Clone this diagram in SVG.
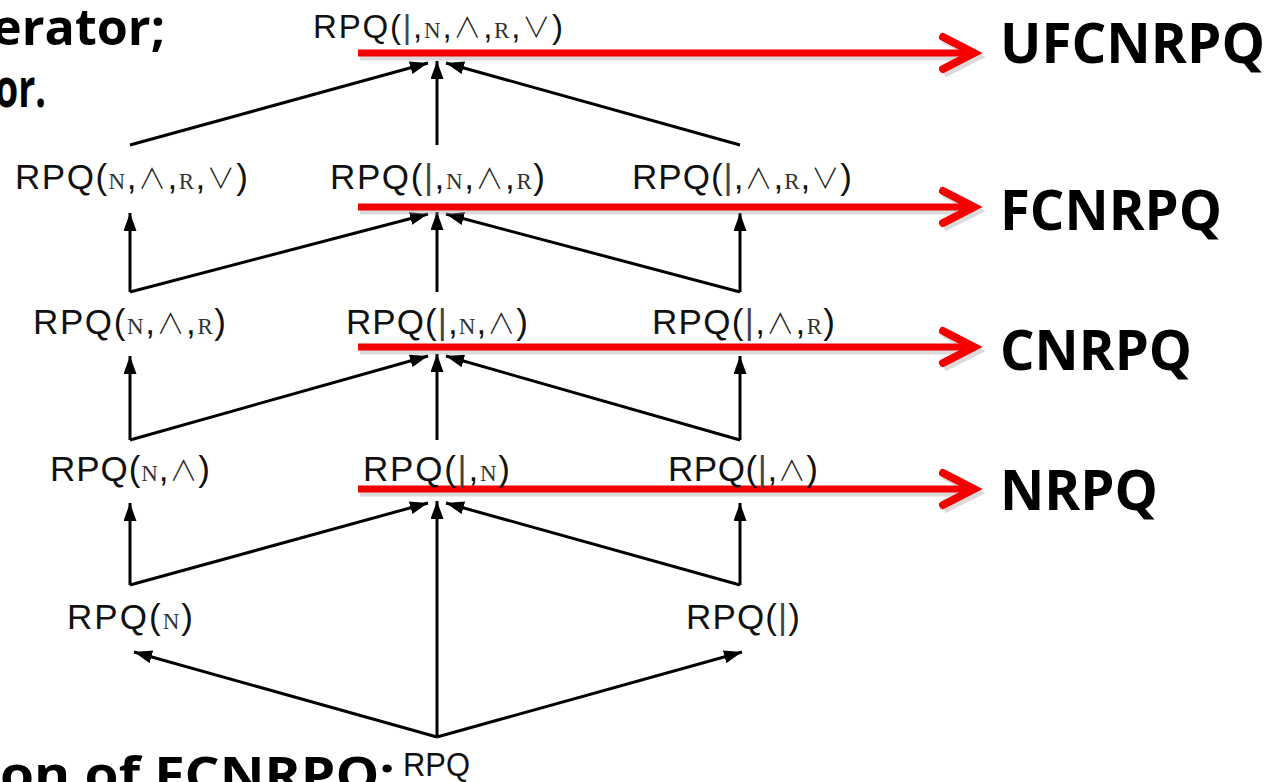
<svg xmlns="http://www.w3.org/2000/svg" width="1281" height="782" viewBox="0 0 1281 782">
<style>
.bg{fill:#fff}
.title{font-family:"Open Sans","Noto Sans",sans-serif;font-weight:700;fill:#000}
.lvl{font-family:"Open Sans","Noto Sans",sans-serif;font-weight:700;font-size:56px;fill:#000}
.lab{font-family:"Liberation Sans","DejaVu Sans",sans-serif;font-size:35px;fill:#111}
.lab.sm{font-size:33px}
.sc{font-family:"Liberation Serif","DejaVu Serif",serif;font-size:23px;fill:#333}
.op{font-family:"Noto Sans CJK JP","Noto Sans CJK SC","DejaVu Sans",sans-serif;font-weight:300;font-size:28px;fill:#222}
.bar{font-family:"Liberation Sans",sans-serif;fill:#444}
.edge{stroke:#000;stroke-width:3;fill:none}
.red{stroke:#f40000;stroke-width:7;fill:none;stroke-linecap:butt}
.redhead{stroke:#f40000;stroke-width:8;fill:none;stroke-linecap:round;stroke-linejoin:miter}
.shadow{stroke:#999;stroke-width:7;fill:none;opacity:0.35}
</style>
<defs>
<marker id="ah" markerWidth="18" markerHeight="13" refX="18" refY="6.5" orient="auto" markerUnits="userSpaceOnUse">
<path d="M0,0 L18,6.5 L0,13 Z" fill="#000"/>
</marker>
</defs>
<rect class="bg" x="0" y="0" width="1281" height="782"/>

<g id="slide-text">
<text class="title" x="-8" y="45" font-size="50" textLength="173" lengthAdjust="spacingAndGlyphs">erator;</text>
<text class="title" x="-5" y="107" font-size="54" textLength="51" lengthAdjust="spacingAndGlyphs">or.</text>
<text class="title" x="0" y="792" font-size="48" textLength="395" lengthAdjust="spacingAndGlyphs">on of FCNRPQ:</text>
</g>

<g id="connectors">
<line class="edge" x1="130" y1="145" x2="428" y2="63" marker-end="url(#ah)"/>
<line class="edge" x1="437" y1="145" x2="437" y2="61" marker-end="url(#ah)"/>
<line class="edge" x1="740" y1="145" x2="446" y2="63" marker-end="url(#ah)"/>

<line class="edge" x1="130" y1="292" x2="130" y2="213" marker-end="url(#ah)"/>
<line class="edge" x1="130" y1="292" x2="428" y2="214" marker-end="url(#ah)"/>
<line class="edge" x1="437" y1="292" x2="437" y2="212" marker-end="url(#ah)"/>
<line class="edge" x1="740" y1="292" x2="446" y2="214" marker-end="url(#ah)"/>
<line class="edge" x1="740" y1="292" x2="740" y2="213" marker-end="url(#ah)"/>

<line class="edge" x1="130" y1="440" x2="130" y2="356" marker-end="url(#ah)"/>
<line class="edge" x1="130" y1="440" x2="428" y2="356" marker-end="url(#ah)"/>
<line class="edge" x1="437" y1="440" x2="437" y2="354" marker-end="url(#ah)"/>
<line class="edge" x1="740" y1="440" x2="446" y2="356" marker-end="url(#ah)"/>
<line class="edge" x1="740" y1="440" x2="740" y2="356" marker-end="url(#ah)"/>

<line class="edge" x1="130" y1="585" x2="130" y2="503" marker-end="url(#ah)"/>
<line class="edge" x1="130" y1="585" x2="428" y2="503" marker-end="url(#ah)"/>
<line class="edge" x1="437" y1="737" x2="437" y2="501" marker-end="url(#ah)"/>
<line class="edge" x1="740" y1="585" x2="446" y2="503" marker-end="url(#ah)"/>
<line class="edge" x1="740" y1="585" x2="740" y2="503" marker-end="url(#ah)"/>

<line class="edge" x1="437" y1="737" x2="134" y2="652" marker-end="url(#ah)"/>
<line class="edge" x1="437" y1="737" x2="742" y2="652" marker-end="url(#ah)"/>
</g>

<g id="class-arrows">
<g id="arrow-ufcnrpq">
<path class="shadow" d="M360,57 L976,57 M944,40 L978,57 L944,74"/>
<line class="red" x1="358" y1="53" x2="972" y2="53"/>
<path class="redhead" d="M943,37 L974,53 L943,69"/>
</g>
<g id="arrow-fcnrpq">
<path class="shadow" d="M360,211 L976,211 M944,194 L978,211 L944,228"/>
<line class="red" x1="358" y1="207" x2="972" y2="207"/>
<path class="redhead" d="M943,191 L974,207 L943,223"/>
</g>
<g id="arrow-cnrpq">
<path class="shadow" d="M360,351 L976,351 M944,334 L978,351 L944,368"/>
<line class="red" x1="358" y1="347" x2="972" y2="347"/>
<path class="redhead" d="M943,331 L974,347 L943,363"/>
</g>
<g id="arrow-nrpq">
<path class="shadow" d="M360,493 L976,493 M944,476 L978,493 L944,510"/>
<line class="red" x1="358" y1="489" x2="972" y2="489"/>
<path class="redhead" d="M943,473 L974,489 L943,505"/>
</g>
</g>

<g id="class-labels">
<text id="ufcnrpq" class="lvl" x="1000" y="63" textLength="265" lengthAdjust="spacingAndGlyphs">UFCNRPQ</text>
<text id="fcnrpq" class="lvl" x="1000" y="230" textLength="222" lengthAdjust="spacingAndGlyphs">FCNRPQ</text>
<text id="cnrpq" class="lvl" x="1000" y="370" textLength="192" lengthAdjust="spacingAndGlyphs">CNRPQ</text>
<text id="nrpq" class="lvl" x="1000" y="510" textLength="158" lengthAdjust="spacingAndGlyphs">NRPQ</text>
</g>

<g id="n-top"><text class="lab sm" x="313" y="38" textLength="250" lengthAdjust="spacing">RPQ(<tspan class="bar">|</tspan>,<tspan class="sc">N</tspan>,<tspan class="op">∧</tspan>,<tspan class="sc">R</tspan>,<tspan class="op">∨</tspan>)</text></g>

<g id="n-nanrv"><text class="lab" x="15" y="189" textLength="233" lengthAdjust="spacing">RPQ(<tspan class="sc">N</tspan>,<tspan class="op">∧</tspan>,<tspan class="sc">R</tspan>,<tspan class="op">∨</tspan>)</text></g>
<g id="n-bnar"><text class="lab" x="330" y="189" textLength="215" lengthAdjust="spacing">RPQ(<tspan class="bar">|</tspan>,<tspan class="sc">N</tspan>,<tspan class="op">∧</tspan>,<tspan class="sc">R</tspan>)</text></g>
<g id="n-barv"><text class="lab" x="632" y="189" textLength="220" lengthAdjust="spacing">RPQ(<tspan class="bar">|</tspan>,<tspan class="op">∧</tspan>,<tspan class="sc">R</tspan>,<tspan class="op">∨</tspan>)</text></g>

<g id="n-nar"><text class="lab" x="33" y="334" textLength="193" lengthAdjust="spacing">RPQ(<tspan class="sc">N</tspan>,<tspan class="op">∧</tspan>,<tspan class="sc">R</tspan>)</text></g>
<g id="n-bna"><text class="lab" x="346" y="334" textLength="182" lengthAdjust="spacing">RPQ(<tspan class="bar">|</tspan>,<tspan class="sc">N</tspan>,<tspan class="op">∧</tspan>)</text></g>
<g id="n-bar"><text class="lab" x="652" y="334" textLength="183" lengthAdjust="spacing">RPQ(<tspan class="bar">|</tspan>,<tspan class="op">∧</tspan>,<tspan class="sc">R</tspan>)</text></g>

<g id="n-na"><text class="lab" x="50" y="481" textLength="160" lengthAdjust="spacing">RPQ(<tspan class="sc">N</tspan>,<tspan class="op">∧</tspan>)</text></g>
<g id="n-bn"><text class="lab" x="363" y="481" textLength="147" lengthAdjust="spacing">RPQ(<tspan class="bar">|</tspan>,<tspan class="sc">N</tspan>)</text></g>
<g id="n-ba"><text class="lab" x="668" y="481" textLength="150" lengthAdjust="spacing">RPQ(<tspan class="bar">|</tspan>,<tspan class="op">∧</tspan>)</text></g>

<g id="n-n"><text class="lab" x="67" y="629" textLength="126" lengthAdjust="spacing">RPQ(<tspan class="sc">N</tspan>)</text></g>
<g id="n-b"><text class="lab" x="686" y="629" textLength="114" lengthAdjust="spacing">RPQ(<tspan class="bar">|</tspan>)</text></g>

<g id="n-rpq"><text class="lab sm" x="403" y="776" textLength="67" lengthAdjust="spacingAndGlyphs">RPQ</text></g>
</svg>
